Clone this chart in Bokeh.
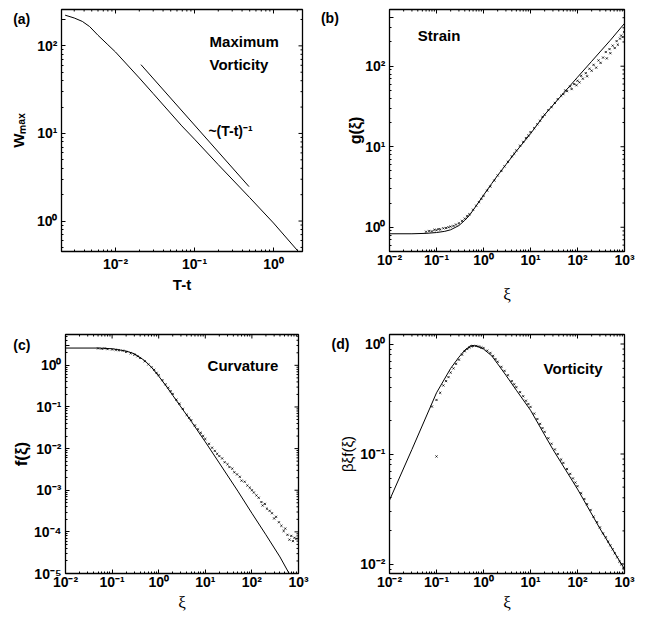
import math
from bokeh.plotting import figure
from bokeh.layouts import row, column
from bokeh.models import Range1d, FixedTicker, Label, CustomJSTickFormatter
from bokeh.embed import file_html
from bokeh.resources import INLINE

# ---------------- data ----------------
# (a) maximum vorticity vs T-t
a_t = [0.0023, 0.003, 0.0038, 0.0047, 0.006, 0.008, 0.01, 0.02, 0.03, 0.069, 0.1, 0.2, 0.5, 1.0, 2.15]
a_w = [224, 208, 190, 166, 132, 103, 85, 43, 28.5, 12.2, 8.6, 4.4, 1.85, 0.95, 0.43]
a_ref_t = [0.021, 0.49]
a_ref_w = [61, 2.47]

# (b) strain g(xi)
b_line_x = [0.01, 0.03, 0.06, 0.1, 0.15, 0.2, 0.3, 0.4, 0.5, 0.7, 1.0, 1.5, 2, 3, 5, 10, 20, 50, 100, 200, 500, 1000]
b_line_y = [0.83, 0.83, 0.84, 0.86, 0.89, 0.93, 1.05, 1.22, 1.4, 1.85, 2.5, 3.5, 4.4, 6.0, 8.8, 14.5, 25, 46, 73, 115, 210, 340]
b_pts_x = [0.06, 0.07, 0.08, 0.09, 0.1, 0.11, 0.12, 0.14, 0.16, 0.18, 0.2, 0.23, 0.26, 0.3, 0.35, 0.4, 0.45,
           0.5, 0.6, 0.7, 0.8, 0.9, 1.0, 1.2, 1.4, 1.7, 2.0, 2.4, 2.8, 3.3, 4, 4.5, 5, 6, 7, 8, 9, 10, 12, 14,
           16, 18, 20, 24, 28, 33, 38, 45, 50, 55, 60, 70, 75, 85, 95, 100, 110, 120, 130, 150, 160, 180, 200,
           220, 250, 280, 310, 350, 400, 420, 480, 500, 560, 620, 680, 720, 800, 850, 920, 980]
b_pts_y = [0.88, 0.90, 0.89, 0.93, 0.92, 0.95, 0.94, 0.97, 0.98, 1.0, 1.02, 1.04, 1.08, 1.12, 1.2, 1.28, 1.38,
           1.45, 1.65, 1.85, 2.05, 2.25, 2.45, 2.85, 3.2, 3.8, 4.4, 5.0, 5.7, 6.5, 7.6, 8.2, 9.0, 10.3, 11.5, 12.8,
           13.8, 15.2, 17, 19, 21, 23.5, 25, 28.5, 31, 35, 39, 43, 45, 50, 49, 56, 52, 60, 58, 66, 63, 76, 70, 82,
           75, 93, 88, 104, 96, 118, 110, 128, 150, 125, 163, 145, 180, 168, 205, 185, 220, 240, 230, 265]

# (c) curvature f(xi)
c_line_x = [0.01, 0.05, 0.1, 0.2, 0.3, 0.5, 0.7, 1, 1.5, 2, 3, 5, 10, 20, 50, 100, 200, 400, 630]
c_line_y = [2.6, 2.6, 2.5, 2.2, 1.9, 1.3, 0.9, 0.55, 0.3, 0.19, 0.1, 0.045, 0.0145, 0.0045, 9.5e-4, 2.8e-4,
            8.5e-5, 2.5e-5, 1.0e-5]
c_pts_x = [0.05, 0.06, 0.07, 0.08, 0.1, 0.12, 0.14, 0.17, 0.2, 0.25, 0.3, 0.35, 0.4, 0.5, 0.6, 0.7, 0.8, 0.9,
           1.0, 1.2, 1.4, 1.6, 1.8, 2.0, 2.4, 2.8, 3.3, 4, 4.5, 5, 6, 7, 8, 9, 10, 12, 14, 16, 18, 20, 23, 26,
           30, 33, 38, 42, 48, 55, 60, 70, 80, 90, 100, 110, 125, 140, 160, 170, 190, 210, 240, 270, 300, 330,
           380, 430, 480, 520, 580, 640, 700, 760, 820, 900]
c_pts_y = [2.55, 2.5, 2.55, 2.45, 2.4, 2.35, 2.3, 2.25, 2.1, 1.95, 1.8, 1.65, 1.5, 1.25, 1.05, 0.9, 0.78, 0.66,
           0.58, 0.44, 0.35, 0.29, 0.24, 0.205, 0.15, 0.12, 0.09, 0.065, 0.055, 0.048, 0.036, 0.029, 0.024,
           0.02, 0.017, 0.013, 0.0105, 0.0088, 0.0075, 0.0066, 0.0058, 0.0047, 0.0042, 0.0036, 0.0033, 0.0027,
           0.0024, 0.0021, 0.0017, 0.0016, 0.0013, 0.00115, 0.001, 0.00088, 0.00075, 0.00066, 0.00052, 0.00043,
           0.00047, 0.00036, 0.00032, 0.00028, 0.00021, 0.00023, 0.00017, 0.00014, 0.000105, 0.00012, 0.000085,
           0.000065, 0.00008, 0.00006, 0.000072, 0.000068]

# (d) vorticity beta*xi*f(xi)
d_line_x = [0.01, 0.03, 0.1, 0.2, 0.3, 0.4, 0.55, 0.7, 1, 1.5, 2, 3, 5, 10, 30, 100, 300, 1000]
d_line_y = [0.038, 0.11, 0.36, 0.6, 0.76, 0.88, 0.97, 0.96, 0.9, 0.78, 0.66, 0.52, 0.38, 0.25, 0.11, 0.048,
            0.021, 0.009]
d_pts_x = [0.08, 0.1, 0.1, 0.12, 0.14, 0.16, 0.18, 0.2, 0.23, 0.26, 0.3, 0.35, 0.4, 0.45, 0.5, 0.55, 0.6, 0.7,
           0.8, 0.9, 1.0, 1.2, 1.4, 1.6, 1.8, 2.0, 2.4, 2.8, 3.3, 4, 4.5, 5, 6, 7, 8, 9, 10, 12, 14, 16, 18, 20,
           24, 28, 33, 38, 45, 50, 60, 70, 80, 90, 100, 120, 140, 160, 190, 220, 260, 300, 350, 400, 450, 500,
           560, 620, 700, 780, 860, 950]
d_pts_y = [0.27, 0.31, 0.095, 0.36, 0.42, 0.46, 0.5, 0.55, 0.6, 0.66, 0.72, 0.8, 0.86, 0.9, 0.93, 0.95, 0.96,
           0.96, 0.95, 0.93, 0.92, 0.87, 0.83, 0.78, 0.73, 0.69, 0.62, 0.57, 0.52, 0.46, 0.43, 0.405, 0.365,
           0.335, 0.305, 0.285, 0.268, 0.233, 0.208, 0.188, 0.172, 0.159, 0.139, 0.124, 0.11, 0.1, 0.089, 0.083,
           0.073, 0.066, 0.06, 0.055, 0.051, 0.044, 0.039, 0.035, 0.031, 0.027, 0.024, 0.0215, 0.019, 0.0175,
           0.016, 0.0148, 0.0136, 0.0125, 0.0115, 0.0105, 0.0099, 0.0092]

# panel letters
panel_names = ["(a)", "(b)", "(c)", "(d)"]

# ---------------- styling helpers ----------------
SANS = "Liberation Sans"
SERIF = "Liberation Serif"
NB = "\u00a0"

SUP_CODE = """
for (let i = 0; i < keys.length; i++) {
    if (Math.abs(tick / keys[i] - 1) < 1e-9) return labs[i];
}
const m = {'-':'\u207b','0':'\u2070','1':'\u00b9','2':'\u00b2','3':'\u00b3','4':'\u2074',
           '5':'\u2075','6':'\u2076','7':'\u2077','8':'\u2078','9':'\u2079'};
const e = Math.round(Math.log10(tick));
return '10' + String(e).split('').map(c => m[c]).join('');
"""


def fmt(extra=None):
    extra = extra or {}
    return CustomJSTickFormatter(args=dict(keys=list(extra.keys()), labs=list(extra.values())), code=SUP_CODE)


def tick_lists(lo, hi):
    major = [10.0 ** k for k in range(lo, hi + 1)]
    minor = [m * 10.0 ** k for k in range(lo - 1, hi + 1) for m in range(2, 10)]
    return major, minor


def style_axis(ax, lo, hi, extra=None):
    major, minor = tick_lists(lo, hi)
    extra = extra or {}
    ax.ticker = FixedTicker(ticks=sorted(set(major + list(extra.keys()))), minor_ticks=minor)
    ax.formatter = fmt(extra)
    ax.axis_line_color = "black"
    ax.major_tick_line_color = "black"
    ax.minor_tick_line_color = "black"
    ax.major_tick_in = 4
    ax.major_tick_out = 0
    ax.minor_tick_in = 2
    ax.minor_tick_out = 0
    ax.major_label_text_font = SANS
    ax.major_label_text_font_style = "bold"
    ax.major_label_text_font_size = "14px"
    ax.major_label_text_color = "black"


def mirror_ticks(p, xr, yr, xt, yt):
    # tick marks on the top and right edges of the frame (inward)
    xmaj, xmin = tick_lists(*xt)
    ymaj, ymin = tick_lists(*yt)
    for vals, ln in ((xmaj, 4), (xmin, 2)):
        v = [t for t in vals if xr[0] < t < xr[1]]
        p.ray(x=v, y=[yr[1]] * len(v), length=ln, length_units="screen",
              angle=-math.pi / 2, line_color="black", line_width=1)
    for vals, ln in ((ymaj, 4), (ymin, 2)):
        v = [t for t in vals if yr[0] < t < yr[1]]
        p.ray(x=[xr[1]] * len(v), y=v, length=ln, length_units="screen",
              angle=math.pi, line_color="black", line_width=1)


def make_fig(w, h, bl, br, bt, bb, xr, yr, xt, yt, xlab, ylab, xlab_font,
             xlab_size, ylab_size, xlab_style, ylab_style, xstand, ystand, xls, yextra):
    p = figure(width=w, height=h, x_axis_type="log", y_axis_type="log",
               x_range=Range1d(*xr), y_range=Range1d(*yr),
               output_backend="svg", toolbar_location=None,
               min_border_left=bl, min_border_right=br, min_border_top=bt, min_border_bottom=bb)
    p.grid.visible = False
    p.outline_line_color = "black"
    p.outline_line_width = 1.3
    p.background_fill_color = "white"
    p.border_fill_color = "white"
    style_axis(p.xaxis[0], *xt)
    style_axis(p.yaxis[0], *yt, extra=yextra)
    p.xaxis[0].major_label_standoff = xls
    p.yaxis[0].major_label_standoff = 4
    p.xaxis[0].axis_label = xlab
    p.yaxis[0].axis_label = ylab
    p.xaxis[0].axis_label_text_font = xlab_font
    p.yaxis[0].axis_label_text_font = SANS
    p.xaxis[0].axis_label_text_font_size = xlab_size
    p.yaxis[0].axis_label_text_font_size = ylab_size
    p.xaxis[0].axis_label_text_font_style = xlab_style
    p.yaxis[0].axis_label_text_font_style = ylab_style
    p.xaxis[0].axis_label_standoff = xstand
    p.yaxis[0].axis_label_standoff = ystand
    p.xaxis[0].axis_label_text_color = "black"
    p.yaxis[0].axis_label_text_color = "black"
    mirror_ticks(p, xr, yr, xt, yt)
    return p


def note(p, x, y, text, size="15px"):
    p.add_layout(Label(x=x, y=y, text=text, text_font=SANS, text_font_style="bold",
                       text_font_size=size, text_baseline="middle", text_align="left",
                       text_color="black"))


# ---------------- panel (a) ----------------
A_X = (0.00207, 2.33)
A_Y = (0.449, 260)
pa = make_fig(320, 310, 61, 18, 5, 59, A_X, A_Y, (-3, 1), (-1, 3),
              "T-t", "W\u2098\u2090\u2093", SANS, "15px", "15px", "bold", "bold", 1, -17, 4,
              {200.0: panel_names[0] + NB * 7})
pa.line(a_t, a_w, line_color="black", line_width=1)
pa.line(a_ref_t, a_ref_w, line_color="black", line_width=1)
note(pa, 0.155, 112, "Maximum")
note(pa, 0.155, 61, "Vorticity")
note(pa, 0.15, 10.8, "~(T-t)\u207b\u00b9", size="14px")

# ---------------- panel (b) ----------------
B_X = (0.01, 1000)
B_Y = (0.5, 506)
pb = make_fig(327, 310, 69, 23, 9, 59, B_X, B_Y, (-2, 3), (-1, 3),
              "\u03be", "g(\u03be)", SERIF, "17px", "16px", "normal", "bold", 14, -46, 0,
              {400.0: panel_names[1] + NB * 12})
pb.line(b_line_x, b_line_y, line_color="black", line_width=1)
pb.scatter(b_pts_x, b_pts_y, marker="x", size=3, line_color="black", line_width=0.8)
note(pb, 0.04, 243, "Strain")

# ---------------- panel (c) ----------------
C_X = (0.01, 1000)
C_Y = (1e-5, 5.5)
pc = make_fig(320, 308, 65, 22, 24, 44, C_X, C_Y, (-2, 3), (-5, 0),
              "\u03be", "f(\u03be)", SERIF, "17px", "17px", "normal", "bold", 0, -21, 0,
              {3.0: panel_names[2] + NB * 8})
pc.line(c_line_x, c_line_y, line_color="black", line_width=1)
pc.scatter(c_pts_x, c_pts_y, marker="x", size=3, line_color="black", line_width=0.8)
note(pc, 11.2, 1.0, "Curvature")

# ---------------- panel (d) ----------------
D_X = (0.01, 1000)
D_Y = (0.0082, 1.22)
pd_ = make_fig(327, 308, 69, 23, 24, 45, D_X, D_Y, (-2, 3), (-2, 0),
               "\u03be", "\u03b2\u03bef(\u03be)", SERIF, "17px", "15px", "normal", "normal", 0, -28, 0,
               {1.0: panel_names[3] + NB * 4 + "10\u2070"})
pd_.line(d_line_x, d_line_y, line_color="black", line_width=1)
pd_.scatter(d_pts_x, d_pts_y, marker="x", size=3, line_color="black", line_width=0.8)
note(pd_, 19, 0.6, "Vorticity")

layout = column(row(pa, pb), row(pc, pd_))
open("out.html", "w").write(file_html(layout, INLINE))
